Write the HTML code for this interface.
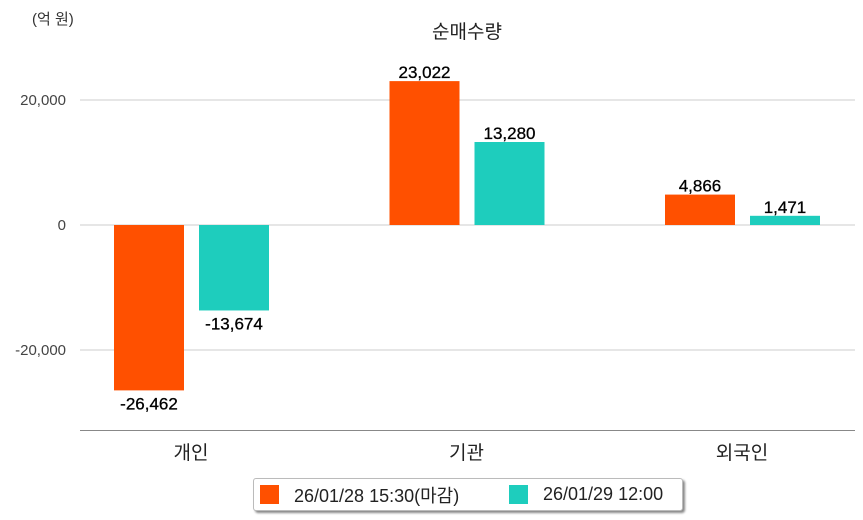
<!DOCTYPE html>
<html><head><meta charset="utf-8"><style>
body{margin:0;background:#fff;font-family:"Liberation Sans","Noto Sans CJK KR",sans-serif}
#wrap{position:relative;width:863px;height:520px;overflow:hidden}
svg text{font-family:"Liberation Sans","Noto Sans CJK KR",sans-serif}
#legend{position:absolute;left:253px;top:478px;width:428px;height:31px;border:1px solid #bbb;border-radius:3px;box-shadow:2px 2px 2px #888;background:#fff;font-size:18px;color:#222}
.li{position:absolute;top:0;height:31px;display:flex;align-items:center}
.sw{width:19px;height:19px;margin-right:15px}
</style></head><body>
<div id="wrap">
<svg id="svg" width="863" height="520"></svg>
<div id="legend">
 <div class="li" style="left:6px"><div class="sw" style="background:#ff5000"></div>26/01/28 15:30(마감)</div>
 <div class="li" style="left:255px"><div class="sw" style="background:#1ecdbd"></div>26/01/29 12:00</div>
</div>
</div>
<script>
const categories=["개인","기관","외국인"];
const series1=[-26462,23022,4866];
const series2=[-13674,13280,1471];
const ticks=[20000,0,-20000];
const tickLabels=["20,000","0","-20,000"];
const NS="http://www.w3.org/2000/svg";
const svg=document.getElementById('svg');
function y(v){return 225-v*125/20000;}
function gx(i){return 191+i*275.5;}
function mk(t,a,txt){const e=document.createElementNS(NS,t);for(const k in a)e.setAttribute(k,a[k]);if(txt!==undefined)e.textContent=txt;svg.appendChild(e);return e;}
function fmt(v){return v.toLocaleString('en-US');}
let e;
e=mk('text',{x:32,y:24,'font-size':15,fill:'#333'},'(억 원)');


e=mk('text',{x:467,y:38,'font-size':19,fill:'#222','text-anchor':'middle'},'순매수량');


ticks.forEach((t,i)=>{
 e=mk('line',{x1:80,x2:855,y1:y(t),y2:y(t),stroke:'#ccc','stroke-width':1});
 
 
 e=mk('text',{x:66,y:y(t)+5,'font-size':15,fill:'#444','text-anchor':'end'},tickLabels[i]);
 
 
});
e=mk('line',{x1:80,x2:855,y1:430.5,y2:430.5,stroke:'#888','stroke-width':1});


categories.forEach((c,i)=>{
 e=mk('text',{x:gx(i),y:459,'font-size':19,fill:'#222','text-anchor':'middle'},c);
 
 
 [[series1,'#ff5000',-42],[series2,'#1ecdbd',43]].forEach(([s,col,off])=>{
  const v=s[i],cx=gx(i)+off,y0=y(0),y1=y(v);
  e=mk('rect',{x:cx-35,y:Math.min(y0,y1),width:70,height:Math.abs(y1-y0),fill:col});
  
  
  const ly=v>=0?y1-3:y1+19;
  e=mk('text',{x:cx,y:ly,'font-size':17,fill:'#000','text-anchor':'middle','stroke':'#000','stroke-width':0.3},fmt(v));
  
  
 });
});
</script>
</body></html>
